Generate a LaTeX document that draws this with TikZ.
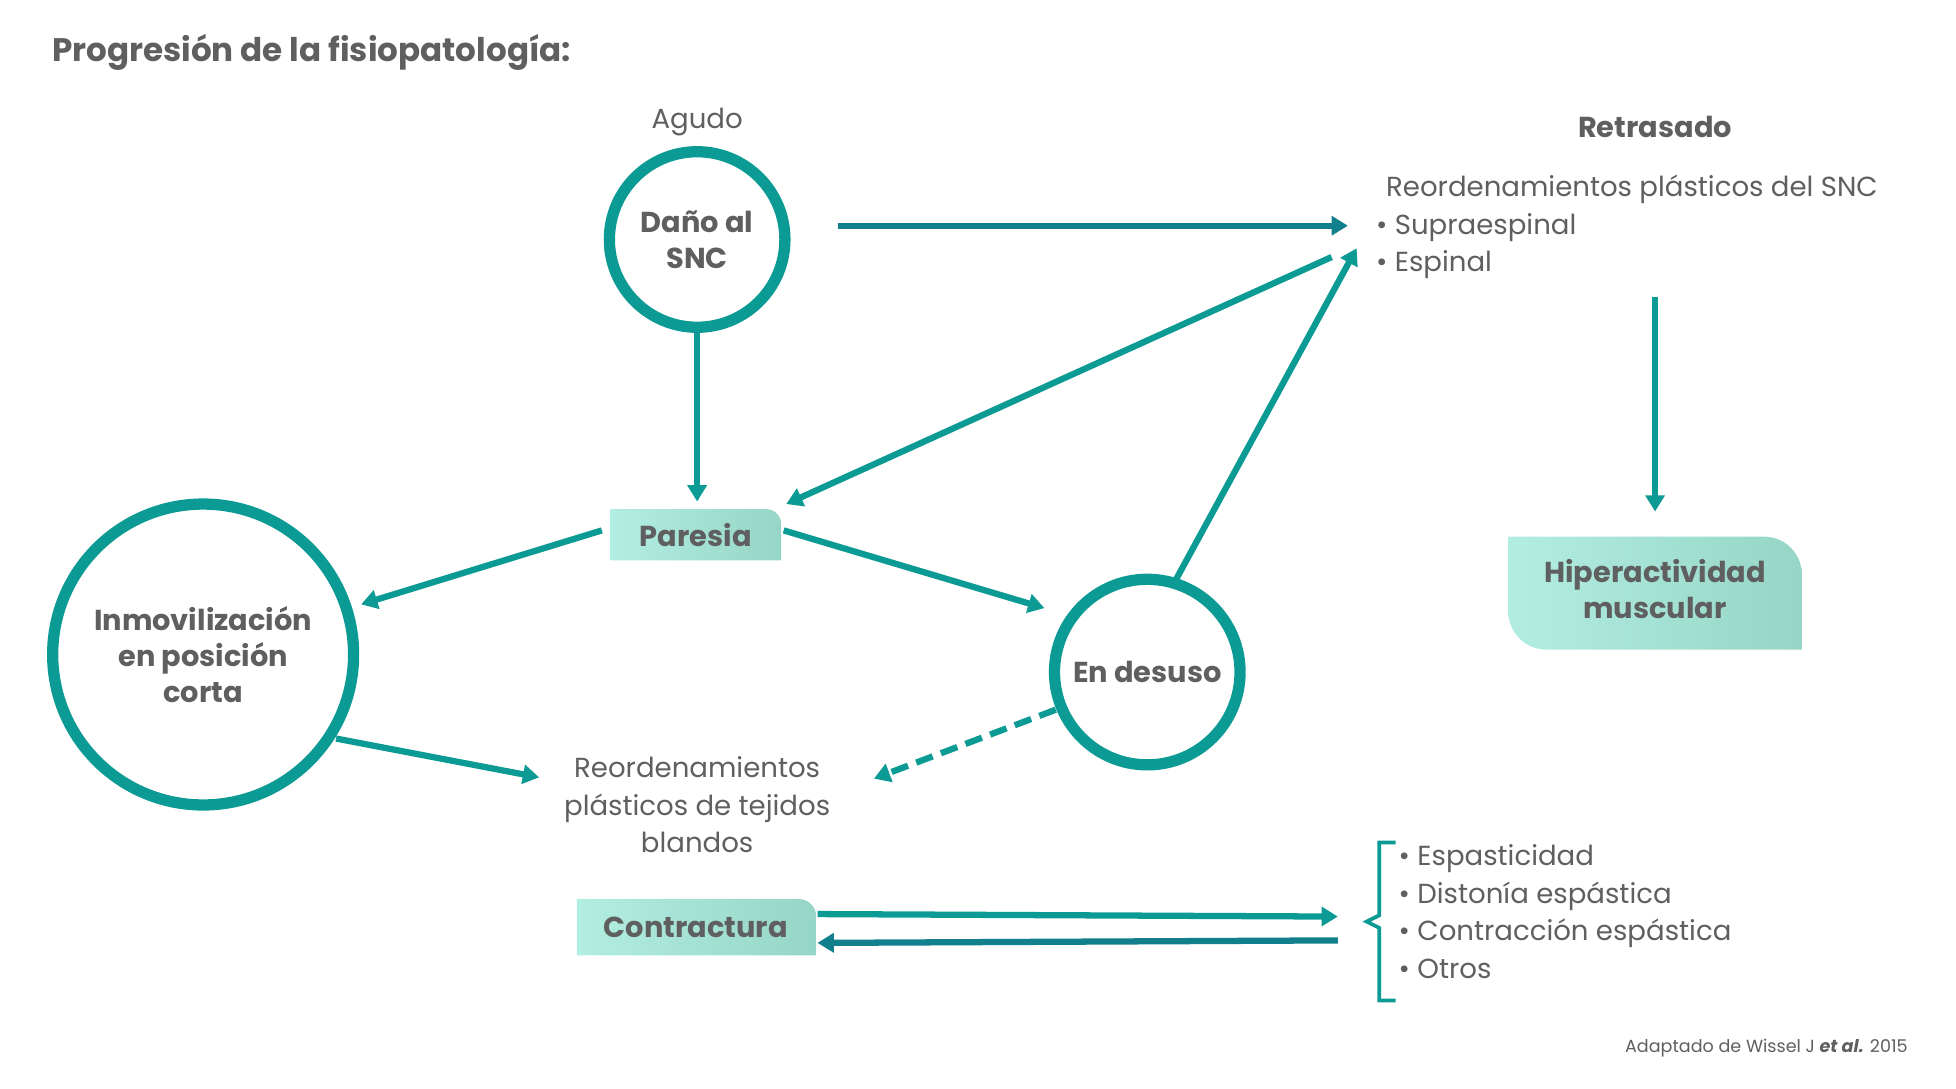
\documentclass[tikz,border=0pt]{standalone}
\usepackage{fontspec}
\setmainfont{Poppins}
\usetikzlibrary{arrows.meta}
\definecolor{teal1}{HTML}{0C9B94}
\definecolor{teal2}{HTML}{11808C}
\definecolor{txt}{HTML}{5F5F5F}
\definecolor{boxl}{HTML}{B2EDE2}
\definecolor{boxr}{HTML}{96D6C6}
\begin{document}
\begin{tikzpicture}[x=1pt,y=-1pt,
  arr/.style={line width=5pt,teal1,-{Triangle[length=13pt,width=15pt]}},
  circ/.style={circle,draw=teal1,line width=9pt,inner sep=0pt},
  lab/.style={text=txt,font=\fontsize{23}{29}\selectfont\bfseries,align=center},
  body/.style={text=txt,font=\fontsize{22}{30}\selectfont,align=left}]
\useasboundingbox (0,0) rectangle (1560,868);
\node[anchor=west,text=txt,font=\fontsize{26}{30}\selectfont\bfseries] (title) at (38,42) {Progresión de la fisiopatología:};
\node[body] (agudo) at (556,97) {Agudo};
\node[lab] (retr) at (1320,101) {Retrasado};
% circles
\node[circ,minimum size=140pt] (dano) at (556,191) {};
\node[lab] at (dano) {Daño al\\SNC};
\node[circ,minimum size=240pt] (inmo) at (162,522) {};
\node[lab] at (inmo) {Inmovilización\\en posición\\corta};
\node[circ,minimum size=148pt] (desuso) at (915,536) {};
\node[lab] at (desuso) {En desuso};
% boxes
\begin{scope}
\clip (487,406) rectangle (590,447) (540,425) rectangle (623,447) [rounded corners=12pt] (487,406) rectangle (623,447);
\shade[left color=boxl,right color=boxr] (487,406) rectangle (623,447);
\end{scope}
\node[lab] (paresia) at (555,427) {Paresia};
\begin{scope}
\clip (460,717) rectangle (610,762) (520,740) rectangle (651,762) [rounded corners=14pt] (460,717) rectangle (651,762);
\shade[left color=boxl,right color=boxr] (460,717) rectangle (651,762);
\end{scope}
\node[lab] (contr) at (555,740) {Contractura};
\begin{scope}
\clip (1203,428) rectangle (1320,480) (1320,470) rectangle (1437,518) [rounded corners=30pt] (1203,428) rectangle (1437,518);
\shade[left color=boxl,right color=boxr] (1203,428) rectangle (1437,518);
\end{scope}
\node[lab] (hiper) at (1320,470) {Hiperactividad\\muscular};
% texts
\node[body,anchor=north west] (snc) at (1094,136) {\hspace*{8pt}Reordenamientos plásticos del SNC\\• Supraespinal\\• Espinal};
\node[body,align=center,text=txt] (tej) at (556,642) {Reordenamientos\\plásticos de tejidos\\blandos};
\node[body,anchor=north west] (list) at (1112,670) {• Espasticidad\\• Distonía espástica\\• Contracción espástica\\• Otros};
\node[anchor=east,text=txt,font=\fontsize{14}{16}\selectfont] (foot) at (1525,836) {Adaptado de Wissel J \textbf{\textit{et al.}} 2015};
% coordinates
\coordinate (a1) at (668,180); \coordinate (a2) at (1075,180);
\coordinate (b1) at (556,262); \coordinate (b2) at (556,400);
\coordinate (c1) at (1062,205); \coordinate (c2) at (627,402);
\coordinate (d1) at (938,462); \coordinate (d2) at (1082,198);
\coordinate (e1) at (480,423); \coordinate (e2) at (288,482);
\coordinate (f1) at (625,423); \coordinate (f2) at (833,485);
\coordinate (g1) at (268,589); \coordinate (g2) at (430,620);
\coordinate (h1) at (842,566); \coordinate (h2) at (697,621);
\coordinate (i1) at (652,729); \coordinate (i2) at (1067,731);
\coordinate (j1) at (1067,750); \coordinate (j2) at (652,752);
\coordinate (k1) at (1320,237); \coordinate (k2) at (1320,408);
\draw[arr,teal2] (a1) -- (a2);
\draw[arr] (b1) -- (b2);
\draw[arr] (c1) -- (c2);
\draw[arr] (d1) -- (d2);
\draw[arr] (e1) -- (e2);
\draw[arr] (f1) -- (f2);
\draw[arr] (g1) -- (g2);
\draw[arr,dash pattern=on 14pt off 7pt] (h1) -- (h2);
\draw[arr] (i1) -- (i2);
\draw[arr,teal2] (j1) -- (j2);
\draw[arr] (k1) -- (k2);
% bracket
\coordinate (br1) at (1113,672); \coordinate (br2) at (1113,798);
\draw[teal1,line width=3pt] (br1) -- (1100,672) -- (1100,730) -- (1090,735) -- (1100,740) -- (1100,798) -- (br2);
\end{tikzpicture}
\end{document}
